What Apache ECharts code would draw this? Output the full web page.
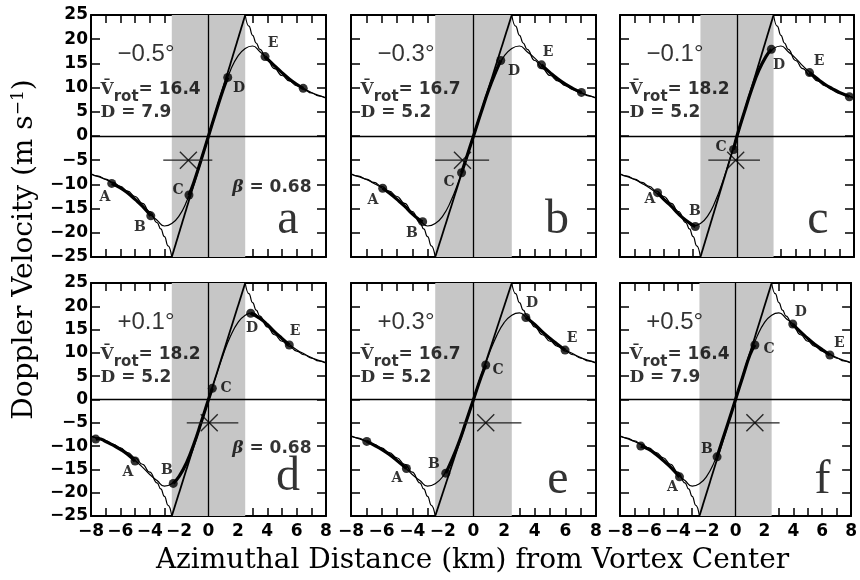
<!DOCTYPE html>
<html>
<head>
<meta charset="utf-8">
<script src="https://cdn.jsdelivr.net/npm/echarts@6.0.0/dist/echarts.min.js"></script>
<style>
  html, body { margin: 0; padding: 0; background: #fff; }
  #chart { width: 860px; height: 580px; }
</style>
</head>
<body>
<div id="chart"></div>
<script>
// axis ticks
const xTicks = [-8, -6, -4, -2, 0, 2, 4, 6, 8];
const yTicks = [-25, -20, -15, -10, -5, 0, 5, 10, 15, 20, 25];
const coreEdge = [-2.5, 2.5]; // shaded core

// Rankine profile (thin line with the cusp)
const rankX = [-8, -7.5, -7, -6.5, -6, -5.5, -5, -4.5, -4, -3.5, -3.25, -3, -2.75, -2.5,
               2.5, 2.75, 3, 3.25, 3.5, 4, 4.5, 5, 5.5, 6, 6.5, 7, 7.5, 8];
const rankV = [-7.8, -8.3, -8.9, -9.6, -10.4, -11.4, -12.5, -13.9, -15.6, -17.9, -19.2, -20.8, -22.7, -25,
               25, 22.7, 20.8, 19.2, 17.9, 15.6, 13.9, 12.5, 11.4, 10.4, 9.6, 8.9, 8.3, 7.8];

// smoothed Doppler profile
const profX = [-8, -7.5, -7, -6.5, -6, -5.5, -5, -4.5, -4, -3.5, -3, -2.5, -2, -1.5, -1, -0.5,
               0, 0.5, 1, 1.5, 2, 2.5, 3, 3.5, 4, 4.5, 5, 5.5, 6, 6.5, 7, 7.5, 8];
const profV = [-7.9, -8.4, -9.0, -9.8, -10.7, -11.8, -13.1, -14.5, -16.1, -17.4, -18.6, -18.1, -16.5, -13.6, -9.6, -4.9,
               0, 4.9, 9.6, 13.6, 16.5, 18.1, 18.6, 17.4, 16.1, 14.5, 13.1, 11.8, 10.7, 9.8, 9.0, 8.4, 7.9];

// per panel text
const panelNames = ['a', 'b', 'c', 'd', 'e', 'f'];
const angles = ['\u22120.5\u00b0', '\u22120.3\u00b0', '\u22120.1\u00b0', '+0.1\u00b0', '+0.3\u00b0', '+0.5\u00b0'];
const vrot = ['16.4', '16.7', '18.2', '18.2', '16.7', '16.4'];
const dist = ['7.9', '5.2', '5.2', '5.2', '5.2', '7.9'];
const beta = ['0.68', null, null, '0.68', null, null];

// sampled points per panel
const dotX = [
  [-6.59, -3.93, -1.33, 1.31, 3.85, 6.45],
  [-5.93, -3.32, -0.78, 1.78, 4.44, 7.05],
  [-5.43, -2.85, -0.23, 2.35, 4.96, 7.68],
  [-7.68, -5.0, -2.4, 0.26, 2.87, 5.5],
  [-6.97, -4.38, -1.81, 0.8, 3.42, 5.98],
  [-6.56, -3.88, -1.28, 1.34, 3.96, 6.53]
];
const dotV = [
  [-9.8, -16.5, -12.2, 12.1, 16.4, 9.85],
  [-10.8, -17.7, -7.6, 15.6, 14.7, 9.0],
  [-11.7, -18.7, -2.8, 17.9, 13.1, 8.1],
  [-8.5, -13.2, -18.0, 2.4, 18.5, 11.7],
  [-9.0, -14.8, -15.8, 7.4, 17.6, 10.6],
  [-10.0, -16.6, -12.3, 11.7, 16.2, 9.55]
];
const dotNames = [
  ['A', 'B', 'C', 'D', 'E', ''],
  ['A', 'B', 'C', 'D', 'E', ''],
  ['A', 'B', 'C', 'D', 'E', ''],
  ['', 'A', 'B', 'C', 'D', 'E'],
  ['', 'A', 'B', 'C', 'D', 'E'],
  ['', 'A', 'B', 'C', 'D', 'E']
];

// vortex centre estimate (X) and its bar
const centerX = [-1.37, -0.72, -0.09, 0.05, 0.8, 1.34];
const centerV = [-5, -5, -5, -5, -5, -5];
const barLo = [-3.08, -2.5, -1.96, -1.48, -0.94, -0.41];
const barHi = [0.26, 1.02, 1.57, 2.03, 3.13, 3.05];

// ---- layout ----
const boxes = [
  [91, 15, 235, 242], [351, 15, 245, 242], [620, 15, 234, 242],
  [91, 283, 235, 233], [351, 283, 245, 233], [620, 283, 234, 233]
];
// label centres (px) for A..E in each panel
const labelPx = [
  [[105, 197], [140, 227], [178, 190], [239, 88], [273, 43]],
  [[373, 200], [412, 233], [449, 182], [514, 71], [548, 52]],
  [[650, 199], [695, 211], [721, 147], [779, 65], [819, 61]],
  [[128, 472], [167, 470], [226, 388], [252, 328], [295, 331]],
  [[397, 478], [434, 464], [498, 370], [532, 303], [572, 338]],
  [[673, 487], [708, 449], [771, 349], [803, 312], [842, 343]]
];
const bigLetterPx = [[288, 220], [557, 220], [818, 220], [288, 477], [558, 480], [825, 480]];

const minus = v => String(v).replace('-', '\u2212');
// pixel -> data, only used to anchor annotation text
const dataAt = (p, px, py) => {
  const b = boxes[p];
  return [xTicks[0] + (px - b[0]) / b[2] * 16, 25 - (py - b[1]) / b[3] * 50];
};
const pyOf = (p, v) => boxes[p][1] + (25 - v) / 50 * boxes[p][3];

const bold17 = { fontFamily: 'DejaVu Sans', fontWeight: 'bold', fontSize: 17, color: '#000' };
const serifB17 = { fontFamily: 'DejaVu Serif', fontWeight: 'bold', fontSize: 17, color: '#000' };

const grids = [], xAxes = [], yAxes = [], series = [];

boxes.forEach((b, p) => {
  grids.push({ left: b[0], top: b[1], width: b[2], height: b[3] });
  const bottomRow = p >= 3, leftCol = p % 3 === 0;
  const tickLabel = { color: '#000', fontFamily: 'DejaVu Sans', fontWeight: 'bold', fontSize: 17, formatter: minus };
  ['bottom', 'top'].forEach(pos => {
    xAxes.push({
      type: 'value', gridIndex: p, position: pos,
      min: xTicks[0], max: xTicks[xTicks.length - 1], interval: xTicks[1] - xTicks[0],
      axisLine: { show: true, onZero: false, lineStyle: { color: '#000', width: 2 } },
      axisTick: { show: true, inside: true, length: 8, lineStyle: { color: '#000', width: 1.5 } },
      minorTick: { show: true, splitNumber: 2, length: 8, lineStyle: { color: '#000', width: 1.5 } },
      splitLine: { show: false },
      axisLabel: Object.assign({ show: pos === 'bottom' && bottomRow, margin: 7 }, tickLabel)
    });
  });
  ['left', 'right'].forEach(pos => {
    yAxes.push({
      type: 'value', gridIndex: p, position: pos,
      min: yTicks[0], max: yTicks[yTicks.length - 1], interval: yTicks[1] - yTicks[0],
      axisLine: { show: true, onZero: false, lineStyle: { color: '#000', width: 2 } },
      axisTick: { show: true, inside: true, length: 9, lineStyle: { color: '#000', width: 1.5 } },
      splitLine: { show: false },
      axisLabel: Object.assign({ show: pos === 'left' && leftCol, margin: 3 }, tickLabel)
    });
  });

  const ax = { xAxisIndex: 2 * p, yAxisIndex: 2 * p };

  // shading + zero lines
  series.push(Object.assign({
    type: 'line', z: 1, silent: true, symbol: 'none',
    data: [[xTicks[0], 0], [xTicks[xTicks.length - 1], 0]],
    lineStyle: { opacity: 0 },
    markArea: { silent: true, itemStyle: { color: '#c6c6c6' },
      data: [[{ xAxis: coreEdge[0] }, { xAxis: coreEdge[1] }]] },
    markLine: { silent: true, symbol: ['none', 'none'], label: { show: false },
      lineStyle: { color: '#000', width: 1.3, type: 'solid' },
      data: [{ yAxis: 0 }, { xAxis: 0 }] }
  }, ax));

  // Rankine profile
  const rk = rankX.map((x, i) => [x, rankV[i]]);
  series.push(Object.assign({ type: 'line', z: 2, symbol: 'none', smooth: true, smoothMonotone: 'x',
    data: rk.filter(d => d[0] <= coreEdge[0]), lineStyle: { color: '#000', width: 1.2 } }, ax));
  series.push(Object.assign({ type: 'line', z: 2, symbol: 'none', smooth: true, smoothMonotone: 'x',
    data: rk.filter(d => d[0] >= coreEdge[1]), lineStyle: { color: '#000', width: 1.2 } }, ax));
  series.push(Object.assign({ type: 'line', z: 2, symbol: 'none',
    data: rk.filter(d => d[0] === coreEdge[0] || d[0] === coreEdge[1]), lineStyle: { color: '#000', width: 1.8 } }, ax));

  // smoothed profile
  series.push(Object.assign({ type: 'line', z: 2, symbol: 'none', smooth: true,
    data: profX.map((x, i) => [x, profV[i]]), lineStyle: { color: '#000', width: 1.2 } }, ax));

  // thick segments between pairs of sampled points
  for (let k = 0; k < dotX[p].length; k += 2) {
    const x0 = dotX[p][k], x1 = dotX[p][k + 1];
    const seg = [[x0, dotV[p][k]]];
    profX.forEach((x, i) => { if (x > x0 + 0.15 && x < x1 - 0.15) seg.push([x, profV[i]]); });
    seg.push([x1, dotV[p][k + 1]]);
    series.push(Object.assign({ type: 'line', z: 3, symbol: 'none', smooth: true,
      data: seg, lineStyle: { color: '#000', width: 3.2 } }, ax));
  }

  // sampled points
  series.push(Object.assign({ type: 'scatter', z: 4, symbolSize: 9, itemStyle: { color: '#000' },
    data: dotX[p].map((x, i) => [x, dotV[p][i]]) }, ax));

  // centre estimate
  series.push(Object.assign({ type: 'line', z: 3, symbol: 'none',
    data: [[barLo[p], centerV[p]], [barHi[p], centerV[p]]], lineStyle: { color: '#222', width: 1.2 } }, ax));
  series.push(Object.assign({ type: 'scatter', z: 4, symbol: 'path://M0,0L10,10M10,0L0,10', symbolSize: 17,
    itemStyle: { color: 'none', borderColor: '#000', borderWidth: 1.4 },
    data: [[centerX[p], centerV[p]]] }, ax));

  // annotation text, as labels of invisible points
  const texts = [];
  dotNames[p].filter(n => n).forEach((n, i) => {
    texts.push({ value: dataAt(p, labelPx[p][i][0], labelPx[p][i][1]),
      label: { position: 'inside', formatter: n, fontFamily: 'DejaVu Serif', fontWeight: 'bold', fontSize: 14, color: '#000' } });
  });
  texts.push({ value: dataAt(p, b[0] + 26, b[1] + 39),
    label: { position: 'right', distance: 0, formatter: angles[p], fontFamily: 'Liberation Sans', fontSize: 24, color: '#000' } });
  texts.push({ value: dataAt(p, b[0] + 9, pyOf(p, 10) + 2),
    label: { position: 'right', distance: 0, formatter: '{v|V\u0304}{s|rot}{n|= ' + vrot[p] + '}',
      rich: { v: serifB17, s: Object.assign({}, bold17, { fontSize: 15, padding: [15, 0, 0, 0] }), n: bold17 } } });
  texts.push({ value: dataAt(p, b[0] + 9, pyOf(p, 5) + 1),
    label: { position: 'right', distance: 0, formatter: '{v|D}{n| = ' + dist[p] + '}',
      rich: { v: serifB17, n: bold17 } } });
  if (beta[p]) {
    texts.push({ value: dataAt(p, b[0] + b[2] - 14, pyOf(p, -10.6)),
      label: { position: 'left', distance: 0, formatter: '{b|\u03b2}{n| = ' + beta[p] + '}',
        rich: { b: Object.assign({}, serifB17, { fontStyle: 'italic' }), n: bold17 } } });
  }
  texts.push({ value: dataAt(p, bigLetterPx[p][0], bigLetterPx[p][1]),
    label: { position: 'inside', formatter: panelNames[p], fontFamily: 'Liberation Serif', fontSize: 48, color: '#000' } });

  series.push(Object.assign({ type: 'scatter', z: 10, silent: true, symbolSize: 1,
    itemStyle: { color: 'rgba(0,0,0,0)' },
    label: { show: true },
    data: texts }, ax));
});

// invisible grid carrying the two axis titles
grids.push({ left: 91, top: 15, width: 763, height: 470 });
xAxes.push({ type: 'value', gridIndex: 6, min: 0, max: 1,
  axisLine: { show: false, onZero: false }, axisTick: { show: false }, axisLabel: { show: false }, splitLine: { show: false },
  name: 'Azimuthal Distance (km) from Vortex Center', nameLocation: 'middle', nameGap: 63,
  nameTextStyle: { fontFamily: 'DejaVu Serif', fontSize: 28, color: '#000' } });
yAxes.push({ type: 'value', gridIndex: 6, min: 0, max: 1,
  axisLine: { show: false, onZero: false }, axisTick: { show: false }, axisLabel: { show: false }, splitLine: { show: false },
  name: '{t|Doppler Velocity (m s}{u|\u22121}{t|)}', nameLocation: 'middle', nameGap: 52,
  nameTextStyle: { color: '#000', rich: {
    t: { fontFamily: 'DejaVu Serif', fontSize: 28, color: '#000' },
    u: { fontFamily: 'DejaVu Serif', fontSize: 17, color: '#000', padding: [0, 0, 12, 0] }
  } } });

const chart = echarts.init(document.getElementById('chart'));
chart.setOption({
  animation: false,
  grid: grids,
  xAxis: xAxes,
  yAxis: yAxes,
  series: series
});
</script>
</body>
</html>
